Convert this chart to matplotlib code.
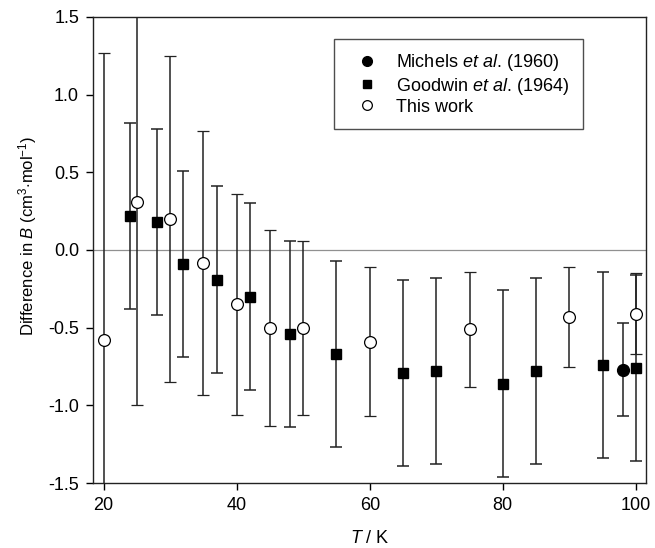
import matplotlib
matplotlib.use("Agg")
import matplotlib.pyplot as plt
from matplotlib.lines import Line2D

plt.rcParams['font.family'] = ['Liberation Sans', 'DejaVu Sans']
plt.rcParams['axes.unicode_minus'] = False
plt.rcParams['mathtext.fontset'] = 'custom'
plt.rcParams['mathtext.rm'] = 'Liberation Sans'
plt.rcParams['mathtext.it'] = 'Liberation Sans:italic'

# Michels et al. (1960)
mic_T = [98]
mic_B = [-0.77]
mic_err = [0.30]

# Goodwin et al. (1964)
good_T = [24, 28, 32, 37, 42, 48, 55, 65, 70, 80, 85, 95, 100]
good_B = [0.22, 0.18, -0.09, -0.19, -0.30, -0.54, -0.67, -0.79, -0.78, -0.86, -0.78, -0.74, -0.76]
good_err = [0.6] * len(good_T)

# This work
this_T = [20, 25, 30, 35, 40, 45, 50, 60, 75, 90, 100]
this_B = [-0.58, 0.31, 0.20, -0.085, -0.35, -0.50, -0.50, -0.59, -0.51, -0.43, -0.41]
this_err = [1.85, 1.31, 1.05, 0.85, 0.71, 0.63, 0.56, 0.48, 0.37, 0.32, 0.26]

xticks = [20, 40, 60, 80, 100]
yticks = [-1.5, -1.0, -0.5, 0.0, 0.5, 1.0, 1.5]

FS = 13

fig = plt.figure(figsize=(6.55, 5.48), dpi=100)
ax = fig.add_axes([0.142, 0.1186, 0.844, 0.8504])

ax.axhline(0, color='#909090', lw=0.9, zorder=1)

ekw = dict(ecolor='#222222', elinewidth=1.1, capsize=4.5, capthick=1.1, ls='none', zorder=2)
ax.errorbar(good_T, good_B, yerr=good_err, fmt='s', mfc='black', mec='black', ms=6.5, **ekw)
ax.errorbar(this_T, this_B, yerr=this_err, fmt='o', mfc='white', mec='black', mew=0.9, ms=8.5, **ekw)
ax.errorbar(mic_T, mic_B, yerr=mic_err, fmt='o', mfc='black', mec='black', ms=8.5, **ekw)

ax.set_xlim(18.4, 101.5)
ax.set_ylim(-1.5, 1.5)
ax.set_xticks(xticks)
ax.set_yticks(yticks)
ax.set_yticklabels([f"{v:.1f}" for v in yticks])
ax.tick_params(direction='out', length=5, width=1, labelsize=FS, top=False, right=False, pad=5)
for s in ax.spines.values():
    s.set_linewidth(1.0)
    s.set_color('#222222')

ax.set_xlabel(r'$\it{T}$ / K', fontsize=FS)
ax.xaxis.set_label_coords(0.5, -0.10)
ax.set_ylabel(r'Difference in $\it{B}$ (cm$^{3}$$\cdot$mol$^{-1}$)', fontsize=12)
ax.yaxis.set_label_coords(-0.098, 0.53)

handles = [
    Line2D([], [], marker='o', ls='none', mfc='black', mec='black', ms=7),
    Line2D([], [], marker='s', ls='none', mfc='black', mec='black', ms=5.5),
    Line2D([], [], marker='o', ls='none', mfc='white', mec='black', mew=0.9, ms=7),
]
labels = [r'$\mathrm{Michels}\ \it{et\ al.}\,\mathrm{(1960)}$',
          r'$\mathrm{Goodwin}\ \it{et\ al.}\,\mathrm{(1964)}$',
          'This work']
leg = ax.legend(handles, labels, loc='upper left', bbox_to_anchor=(0.436, 0.953),
                fontsize=FS, frameon=True, fancybox=False, edgecolor='#222222',
                borderpad=0.75, handlelength=2.2, handletextpad=0.5, labelspacing=0.12,
                borderaxespad=0)
leg.get_frame().set_linewidth(1.0)

fig.savefig('out.png', dpi=100)
